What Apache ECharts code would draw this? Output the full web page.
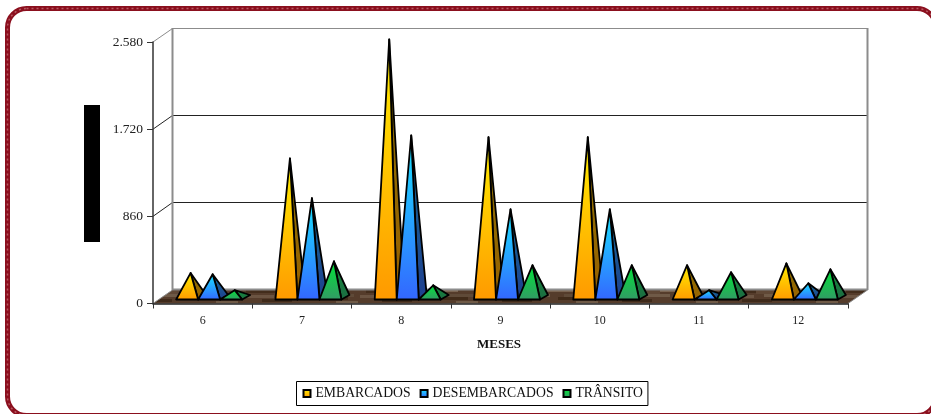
<!DOCTYPE html>
<html><head><meta charset="utf-8">
<style>html,body{margin:0;padding:0;background:#fff;overflow:hidden}#c{width:931px;height:414px}</style>
<script src="https://cdn.jsdelivr.net/npm/echarts@6/dist/echarts.min.js"></script>
</head><body><div id="c"></div>
<script>
const categories = ['6','7','8','9','10','11','12'];
const embarcados = [240,1370,2545,1580,1580,316,335];
const desembarcados = [227,977,1598,868,868,70,138];
const transito = [70,355,118,316,316,247,276];
const yTickValues = [0,860,1720,2580];
const yTickLabels = ['0','860','1.720','2.580'];
const seriesNames = ['EMBARCADOS','DESEMBARCADOS','TRÂNSITO'];

const DX = 19.5, DY = -13.5;
const BW = 22, BDX = 8, BDY = -4.5, FRONT = -4;
const FONT = '"Liberation Serif","Times New Roman",serif';
const lg = (a,b)=>new echarts.graphic.LinearGradient(0,0,0,1,[{offset:0,color:a},{offset:1,color:b}]);
const palette = [
  {front:['#FFF000','#FF9900'], side:['#8a7000','#996200']},
  {front:['#19E6FF','#3366FF'], side:['#146C94','#1F3F8F']},
  {front:['#00E636','#339966'], side:['#148C3C','#1C6B42']}
];

// wood texture for the floor
function woodPattern(){
  const cv=document.createElement('canvas');cv.width=120;cv.height=14;
  const c=cv.getContext('2d');c.fillStyle='#553c2b';c.fillRect(0,0,120,14);
  const streaks=[[0,1,34,'#6b5442'],[22,5,30,'#3f2a1a'],[44,0,26,'#6f5a47'],[60,9,38,'#7a6451'],[6,10,30,'#432d1c'],
    [78,3,30,'#412b19'],[96,7,22,'#6f5a47'],[36,11,24,'#604836'],[84,0,30,'#5f4a38']];
  streaks.forEach(s=>{c.fillStyle=s[3];c.fillRect(s[0],s[1],s[2],3);});
  return cv;
}
const wood=woodPattern();

function renderWalls(params,api){
  const cs=params.coordSys, L=cs.x, R=cs.x+cs.width;
  const y0=api.coord([0,0])[1], yTop=api.coord([0,yTickValues[3]])[1];
  const kids=[];
  const line=(x1,y1,x2,y2,color,w)=>kids.push({type:'line',shape:{x1,y1,x2,y2},style:{stroke:color,lineWidth:w}});
  yTickValues.slice(1).forEach(v=>{
    const y=api.coord([0,v])[1], top=v===yTickValues[3], col=top?'#8c8c8c':'#222';
    const by=Math.floor(y+DY)+0.5;
    line(L,y,L+DX,by,top?'#8c8c8c':'#222',1);
    line(L+DX,by,R+DX,by,col,1);
  });
  line(L+DX,Math.floor(yTop+DY),L+DX,y0+DY,'#8c8c8c',2);
  line(R+DX,Math.floor(yTop+DY),R+DX,y0+DY,'#8c8c8c',2);
  kids.push({type:'polygon',shape:{points:[[L,y0],[R,y0],[R+DX,y0+DY],[L+DX,y0+DY]]},
    style:{fill:{image:wood,repeat:'repeat'},stroke:null}});
  line(L,y0,L+DX,y0+DY,'#8c8c8c',1);
  line(L+DX,y0+DY-0.5,R+DX,y0+DY-0.5,'#8c8c8c',2);
  line(R,y0,R+DX,y0+DY,'#8c8c8c',1);
  return {type:'group',children:kids};
}

function pyramid(si){
  return function(params,api){
    const top=api.coord([api.value(0),api.value(1)]);
    const base=api.coord([api.value(0),0]);
    const cx=base[0]+6.5+(si-1)*BW, by=base[1]+FRONT;
    const l=[cx-BW/2,by], r=[cx+BW/2,by], br=[r[0]+BDX,by+BDY];
    const apex=[cx+3.5,top[1]+FRONT+BDY/2];
    const p=palette[si];
    const st=(a,b)=>({fill:lg(a,b),stroke:'#000',lineWidth:1.8,lineJoin:'round'});
    return {type:'group',children:[
      {type:'polygon',shape:{points:[apex,r,br]},style:st(p.side[0],p.side[1])},
      {type:'polygon',shape:{points:[apex,l,r]},style:st(p.front[0],p.front[1])}
    ]};
  };
}
const seriesValues=[embarcados,desembarcados,transito];

const chart=echarts.init(document.getElementById('c'),null,{renderer:'canvas',width:931,height:414});
chart.setOption({
  animation:false,
  backgroundColor:'#fff',
  graphic:[
    {type:'rect',z:0,shape:{x:7.5,y:8.5,width:928.5,height:407,r:19},style:{fill:'#fff',stroke:'#8B0F1E',lineWidth:5}},
    {type:'rect',z:0,shape:{x:7.5,y:8.5,width:928.5,height:407,r:19},style:{fill:null,stroke:'rgba(235,180,180,0.45)',lineWidth:1.5,lineDash:[2,3]}},
    {type:'rect',z:10,shape:{x:84,y:105,width:16,height:137},style:{fill:'#000'}}
  ],
  grid:{left:153,right:83,top:42,bottom:110.5},
  legend:{
    left:296.5,top:381.5,orient:'horizontal',
    data:seriesNames,itemWidth:7,itemHeight:7,itemGap:9,
    icon:'rect',padding:[5,5,5,6],
    borderColor:'#000',borderWidth:1,backgroundColor:'#fff',
    textStyle:{fontFamily:FONT,fontSize:13.7,color:'#111'}
  },
  xAxis:{
    type:'category',data:categories,boundaryGap:true,
    name:'MESES',nameLocation:'middle',nameGap:35,
    nameTextStyle:{fontFamily:FONT,fontSize:13,fontWeight:'bold',color:'#111',padding:[0,3,0,0]},
    axisLine:{lineStyle:{color:'#222',width:1.5}},
    axisTick:{show:true,length:5,lineStyle:{color:'#333',width:1}},
    axisLabel:{fontFamily:FONT,fontSize:12,color:'#222',margin:11,interval:0},
    splitLine:{show:false},z:5
  },
  yAxis:{
    type:'value',min:0,max:2580,interval:860,
    axisLine:{show:true,lineStyle:{color:'#333',width:1.5}},
    axisTick:{show:true,length:6,lineStyle:{color:'#333',width:1}},
    axisLabel:{fontFamily:FONT,fontSize:13.5,color:'#222',margin:10,
      formatter:v=>yTickLabels[yTickValues.indexOf(v)]},
    splitLine:{show:false},z:5
  },
  series:[
    {type:'custom',name:'walls',silent:true,z:1,renderItem:renderWalls,data:[[0,0]],encode:{x:0,y:1}},
    ...seriesNames.map((n,si)=>({
      type:'custom',name:n,z:3+si,renderItem:pyramid(si),
      encode:{x:0,y:1},clip:false,
      itemStyle:{color:lg(palette[si].front[0],palette[si].front[1]),borderColor:'#000',borderWidth:1.5},
      data:seriesValues[si].map((v,i)=>[i,v])
    }))
  ]
});
</script></body></html>
